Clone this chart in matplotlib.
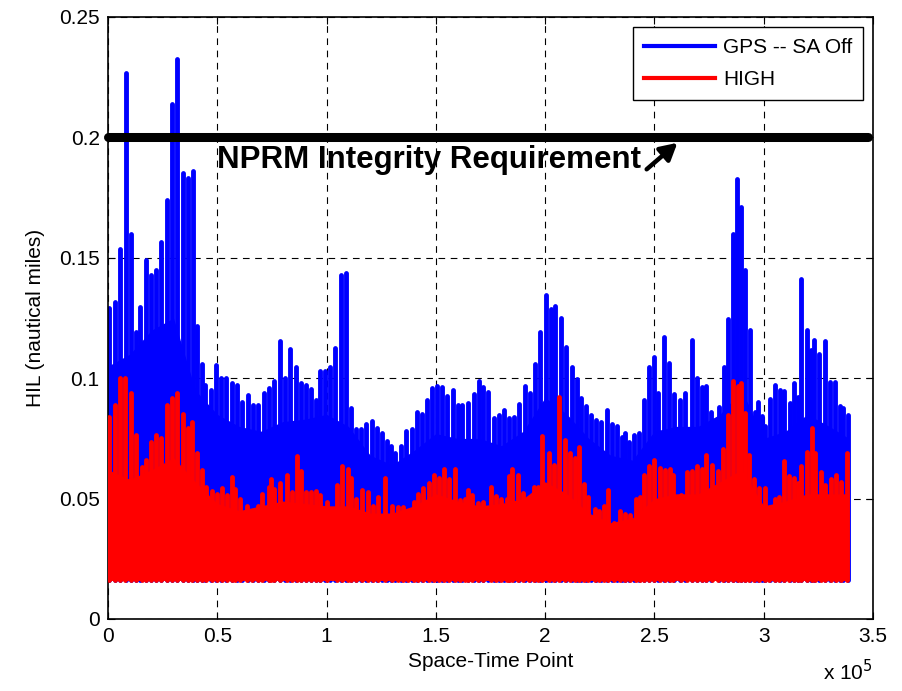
import numpy as np
import matplotlib
matplotlib.use('Agg')
import matplotlib.pyplot as plt
from matplotlib.lines import Line2D

plt.rcParams['font.family'] = ['Liberation Sans', 'DejaVu Sans']

# spike positions (x 1e5) and peak HIL values
gps_x = [0.007, 0.032, 0.056, 0.084, 0.105, 0.13, 0.148, 0.172, 0.195, 0.219, 0.244, 0.27, 0.292, 0.317, 0.341,
         0.364, 0.387, 0.407, 0.428, 0.444, 0.47, 0.494, 0.517, 0.54, 0.566, 0.592, 0.615, 0.639, 0.663, 0.688,
         0.712, 0.737, 0.761, 0.785, 0.808, 0.832, 0.858, 0.881, 0.905, 0.928, 0.951, 0.97, 0.994, 1.018, 1.041,
         1.066, 1.09, 1.114, 1.137, 1.157, 1.18, 1.206, 1.229, 1.252, 1.275, 1.297, 1.313, 1.339, 1.363, 1.389,
         1.412, 1.435, 1.461, 1.484, 1.504, 1.53, 1.552, 1.577, 1.6, 1.622, 1.648, 1.674, 1.697, 1.717, 1.74,
         1.767, 1.79, 1.813, 1.836, 1.859, 1.881, 1.906, 1.93, 1.953, 1.976, 2.002, 2.025, 2.045, 2.071, 2.094,
         2.121, 2.144, 2.164, 2.187, 2.21, 2.234, 2.257, 2.285, 2.305, 2.327, 2.35, 2.365, 2.384, 2.408, 2.431,
         2.454, 2.477, 2.496, 2.518, 2.545, 2.565, 2.589, 2.616, 2.64, 2.673, 2.693, 2.719, 2.738, 2.761, 2.795,
         2.818, 2.838, 2.861, 2.88, 2.894, 2.914, 2.937, 2.96, 2.972, 2.993, 3.005, 3.028, 3.051, 3.074, 3.094,
         3.12, 3.14, 3.158, 3.173, 3.196, 3.216, 3.23, 3.253, 3.28, 3.303, 3.326, 3.349, 3.364, 3.387]
gps_peak = [0.129, 0.1316, 0.1537, 0.2267, 0.160, 0.119, 0.1296, 0.149, 0.143, 0.145, 0.1565, 0.174, 0.2137, 0.2326, 0.1854,
            0.183, 0.186, 0.1215, 0.106, 0.097, 0.095, 0.1056, 0.100, 0.100, 0.098, 0.097, 0.090, 0.093, 0.089, 0.089,
            0.094, 0.096, 0.099, 0.1156, 0.100, 0.112, 0.1046, 0.098, 0.097, 0.0954, 0.091, 0.103, 0.103, 0.1046, 0.1126,
            0.143, 0.1437, 0.0876, 0.079, 0.079, 0.081, 0.0824, 0.0794, 0.0773, 0.074, 0.072, 0.069, 0.072, 0.078, 0.079,
            0.0858, 0.0852, 0.091, 0.096, 0.0967, 0.0964, 0.0924, 0.095, 0.0887, 0.0888, 0.0896, 0.0934, 0.0988, 0.0964, 0.0944,
            0.0835, 0.0846, 0.0866, 0.0835, 0.0837, 0.0893, 0.0967, 0.0937, 0.106, 0.119, 0.1347, 0.1286, 0.130, 0.1249, 0.113,
            0.1046, 0.0995, 0.0917, 0.0883, 0.0846, 0.0825, 0.082, 0.0866, 0.0811, 0.080, 0.0757, 0.0773, 0.0735, 0.0766, 0.0773,
            0.091, 0.1046, 0.109, 0.094, 0.117, 0.1063, 0.0934, 0.091, 0.094, 0.116, 0.100, 0.0962, 0.0967, 0.0858, 0.088,
            0.1046, 0.1244, 0.160, 0.1828, 0.171, 0.1448, 0.120, 0.0858, 0.0903, 0.0844, 0.080, 0.0913, 0.0972, 0.095, 0.0945,
            0.0897, 0.098, 0.092, 0.1414, 0.120, 0.1117, 0.116, 0.110, 0.1156, 0.0986, 0.0986, 0.0883, 0.0876, 0.0848]

high_x = [0.007, 0.032, 0.056, 0.08, 0.105, 0.13, 0.155, 0.172, 0.195, 0.219, 0.244, 0.27, 0.292, 0.317, 0.341,
          0.364, 0.385, 0.407, 0.428, 0.45, 0.474, 0.497, 0.52, 0.543, 0.566, 0.58, 0.604, 0.634, 0.659, 0.688,
          0.705, 0.737, 0.744, 0.761, 0.785, 0.817, 0.84, 0.865, 0.881, 0.905, 0.928, 0.951, 0.97, 1.0, 1.046,
          1.073, 1.096, 1.114, 1.137, 1.16, 1.188, 1.214, 1.237, 1.267, 1.301, 1.325, 1.348, 1.374, 1.4, 1.42,
          1.443, 1.468, 1.491, 1.514, 1.539, 1.561, 1.59, 1.61, 1.633, 1.648, 1.666, 1.691, 1.717, 1.752, 1.775,
          1.798, 1.824, 1.836, 1.85, 1.877, 1.9, 1.926, 1.948, 1.968, 1.988, 2.017, 2.04, 2.065, 2.09, 2.113,
          2.136, 2.156, 2.179, 2.197, 2.228, 2.248, 2.269, 2.29, 2.315, 2.342, 2.365, 2.388, 2.416, 2.434, 2.454,
          2.477, 2.499, 2.525, 2.548, 2.572, 2.586, 2.621, 2.647, 2.673, 2.693, 2.716, 2.736, 2.762, 2.792, 2.815,
          2.838, 2.861, 2.883, 2.894, 2.914, 2.934, 2.957, 2.98, 3.005, 3.025, 3.051, 3.071, 3.092, 3.117, 3.14,
          3.158, 3.173, 3.196, 3.219, 3.237, 3.262, 3.28, 3.307, 3.333, 3.356, 3.379]
high_peak = [0.084, 0.089, 0.100, 0.100, 0.094, 0.0765, 0.063, 0.066, 0.0736, 0.0765, 0.075, 0.089, 0.0916, 0.094, 0.085,
             0.0795, 0.082, 0.069, 0.062, 0.055, 0.053, 0.052, 0.0545, 0.0515, 0.059, 0.054, 0.050, 0.047, 0.045, 0.047,
             0.052, 0.055, 0.058, 0.054, 0.0564, 0.060, 0.0527, 0.0678, 0.0616, 0.0527, 0.0527, 0.053, 0.0514, 0.0486, 0.0555,
             0.0634, 0.0623, 0.0585, 0.050, 0.0534, 0.0527, 0.047, 0.0507, 0.0585, 0.047, 0.0466, 0.0466, 0.0445, 0.0486, 0.052,
             0.0544, 0.0566, 0.060, 0.0585, 0.0623, 0.058, 0.0623, 0.0493, 0.050, 0.0534, 0.0516, 0.048, 0.0486, 0.0548, 0.051,
             0.050, 0.050, 0.0593, 0.0623, 0.0598, 0.0525, 0.050, 0.0548, 0.0548, 0.0762, 0.069, 0.064, 0.0923, 0.0745, 0.069,
             0.067, 0.0715, 0.0561, 0.0505, 0.0456, 0.045, 0.047, 0.0534, 0.0398, 0.045, 0.0434, 0.043, 0.050, 0.0507, 0.060,
             0.0634, 0.066, 0.0625, 0.062, 0.0623, 0.0598, 0.0516, 0.0612, 0.0616, 0.0637, 0.0623, 0.068, 0.064, 0.0616, 0.0705,
             0.0848, 0.099, 0.0966, 0.098, 0.0855, 0.0683, 0.058, 0.0545, 0.0545, 0.0455, 0.050, 0.0507, 0.0655, 0.0593, 0.0586,
             0.0563, 0.0635, 0.0692, 0.0793, 0.069, 0.061, 0.0558, 0.058, 0.060, 0.0568, 0.069]

# level of the dense (solid) part of each trace
dense_x = [0.0, 0.1, 0.2, 0.3, 0.4, 0.5, 0.6, 0.7, 0.8, 0.9, 1.0, 1.1, 1.2, 1.3, 1.4, 1.5, 1.6, 1.7,
           1.8, 1.9, 2.0, 2.1, 2.2, 2.3, 2.4, 2.5, 2.6, 2.7, 2.8, 2.9, 3.0, 3.1, 3.2, 3.3, 3.39]
gps_dense = [0.105, 0.11, 0.12, 0.125, 0.095, 0.085, 0.08, 0.078, 0.082, 0.083, 0.085, 0.08, 0.068, 0.064, 0.07, 0.077,
             0.075, 0.075, 0.072, 0.078, 0.092, 0.085, 0.075, 0.068, 0.066, 0.078, 0.08, 0.08, 0.085, 0.095, 0.075,
             0.078, 0.085, 0.08, 0.075]
high_dense = [0.062, 0.058, 0.062, 0.067, 0.057, 0.048, 0.045, 0.047, 0.049, 0.048, 0.047, 0.047, 0.044, 0.044, 0.047, 0.052,
              0.049, 0.047, 0.048, 0.05, 0.057, 0.052, 0.044, 0.04, 0.042, 0.05, 0.052, 0.052, 0.057, 0.062, 0.047,
              0.049, 0.052, 0.052, 0.052]
floor_val = 0.016
nprm_req = 0.2

fig = plt.figure(figsize=(9.02, 6.91), dpi=100)
ax = fig.add_axes([0.1197, 0.1042, 0.8481, 0.8712])

# GPS -- SA Off
ax.fill_between(dense_x, floor_val, gps_dense, color='#0000ff', lw=0, zorder=2)
vb = ax.vlines(gps_x, floor_val, gps_peak, color='#0000ff', lw=3.5, zorder=2)
vb.set_capstyle('round')
# HIGH
ax.fill_between(dense_x, floor_val, high_dense, color='#ff0000', lw=0, zorder=3)
vr = ax.vlines(high_x, floor_val, high_peak, color='#ff0000', lw=3.5, zorder=3)
vr.set_capstyle('round')

# requirement line + label
ax.plot([0.0, 3.477], [nprm_req, nprm_req], color='black', lw=6.5, solid_capstyle='round', zorder=5, clip_on=False)
ax.annotate('', xy=(2.615, 0.1985), xytext=(2.455, 0.186),
            arrowprops=dict(arrowstyle='-|>,head_length=1.0,head_width=0.55', color='black', lw=3.2), zorder=6)
ax.text(0.5, 0.1905, 'NPRM Integrity Requirement', fontsize=22.5, fontweight='bold', va='center', ha='left', zorder=6)

ax.set_xlim(0, 3.5)
ax.set_ylim(0, 0.25)
ax.set_xticks([0, 0.5, 1, 1.5, 2, 2.5, 3, 3.5])
ax.set_xticklabels(['0', '0.5', '1', '1.5', '2', '2.5', '3', '3.5'])
ax.set_yticks([0, 0.05, 0.1, 0.15, 0.2, 0.25])
ax.set_yticklabels(['0', '0.05', '0.1', '0.15', '0.2', '0.25'])
ax.tick_params(direction='in', top=True, right=True, labelsize=15, length=5, pad=6)
ax.set_axisbelow(True)
ax.grid(True, color='black', linestyle=(0, (6, 5)), lw=0.8)
for s in ax.spines.values():
    s.set_linewidth(1.2)

ax.set_xlabel('Space-Time Point', fontsize=15, labelpad=4)
ax.set_ylabel('HIL (nautical miles)', fontsize=15, labelpad=10)
fig.text(0.912, 0.01, r'x 10$^5$', fontsize=15, ha='left', va='bottom')

handles = [Line2D([], [], color='#0000ff', lw=3), Line2D([], [], color='#ff0000', lw=3)]
leg = ax.legend(handles, ['GPS -- SA Off', 'HIGH'], loc='upper right', fontsize=15, handlelength=3.4,
                fancybox=False, framealpha=1, edgecolor='black', borderaxespad=0.5, borderpad=0.5,
                labelspacing=0.65, handletextpad=0.4)
leg.get_frame().set_linewidth(1.0)
leg.set_zorder(10)

fig.savefig('out.png', dpi=100)
